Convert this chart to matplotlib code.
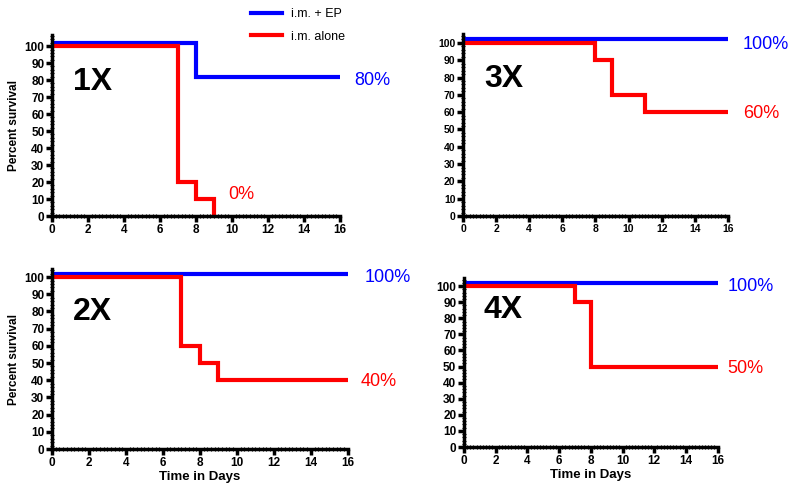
import numpy as np
import matplotlib
matplotlib.use("Agg")
import matplotlib.pyplot as plt
from matplotlib.ticker import MultipleLocator

plt.rcParams['font.family'] = ['Liberation Sans', 'DejaVu Sans']

# survival curves: time points (days) and percent survival
panels = ['1X', '3X', '2X', '4X']
ep_t = [[0, 8, 16], [0, 16], [0, 16], [0, 16]]
ep_s = [[100, 80, 80], [100, 100], [100, 100], [100, 100]]
alone_t = [[0, 7, 8, 9], [0, 8, 9, 11, 16], [0, 7, 8, 9, 16], [0, 7, 8, 16]]
alone_s = [[100, 20, 10, 0], [100, 90, 70, 60, 60], [100, 60, 50, 40, 40], [100, 90, 50, 50]]
ep_label = ['80%', '100%', '100%', '100%']
alone_label = ['0%', '60%', '40%', '50%']

BLUE = '#0000ff'
RED = '#ff0000'

fig = plt.figure(figsize=(7.93, 4.91), dpi=100)

# axes rectangles (left, bottom, width, height) in figure fraction
rects = [
  (0.0656, 0.560, 0.363, 0.3686),
  (0.5839, 0.560, 0.334, 0.371),
  (0.0656, 0.0855, 0.373, 0.3666),
  (0.585, 0.0896, 0.320, 0.344),
]
ytops = [106.5, 105.2, 104.7, 105]
tick_fs = [8.5, 7.5, 8.5, 8.5]
name_pos = [(0.073, 0.74), (0.079, 0.75), (0.07, 0.76), (0.078, 0.81)]
# where the percentage labels go (x in days, y in percent)
ep_pos = [(16.8, 80), (16.9, 99), (16.9, 100), (16.6, 100)]
alone_pos = [(9.8, 12.5), (16.9, 59), (16.7, 39), (16.6, 48.5)]

handles = None
for i, name in enumerate(panels):
  ax = fig.add_axes(rects[i])
  # blue drawn slightly above red so the lines don't overlap
  hb, = ax.step(ep_t[i], np.array(ep_s[i]) + 2, where='post', color=BLUE, lw=3, solid_joinstyle='miter')
  hr, = ax.step(alone_t[i], alone_s[i], where='post', color=RED, lw=3, solid_joinstyle='miter')
  if handles is None:
    handles = (hb, hr)

  ax.set_xlim(0, 16)
  ax.set_ylim(0, ytops[i])
  ax.xaxis.set_major_locator(MultipleLocator(2))
  ax.yaxis.set_major_locator(MultipleLocator(10))
  ax.xaxis.set_minor_locator(MultipleLocator(0.2))
  ax.yaxis.set_minor_locator(MultipleLocator(2))
  for s in ['top', 'right']:
    ax.spines[s].set_visible(False)
  for s in ['left', 'bottom']:
    ax.spines[s].set_linewidth(2.5)
  ax.tick_params(which='major', length=4, width=2.5, pad=1.5, labelsize=tick_fs[i])
  ax.tick_params(which='minor', direction='inout', length=3.5, width=0.8)
  for lab in ax.get_xticklabels() + ax.get_yticklabels():
    lab.set_fontweight('bold')

  ax.text(name_pos[i][0], name_pos[i][1], name, transform=ax.transAxes, fontsize=23,
          fontweight='bold', va='center')
  ax.text(ep_pos[i][0], ep_pos[i][1], ep_label[i], color=BLUE, fontsize=13, va='center', clip_on=False)
  ax.text(alone_pos[i][0], alone_pos[i][1], alone_label[i], color=RED, fontsize=13, va='center', clip_on=False)

  if i in (0, 2):
    ax.set_ylabel('Percent survival', fontsize=8.5, fontweight='bold', labelpad=3)
  if i in (2, 3):
    ax.set_xlabel('Time in Days', fontsize=9.5, fontweight='bold', labelpad=2)

fig.legend(handles, ['i.m. + EP', 'i.m. alone'], loc='upper left',
           bbox_to_anchor=(251 / 793, 1 - 8 / 491), frameon=False, fontsize=9,
           borderpad=0, borderaxespad=0, handlelength=2.5, handletextpad=0.7,
           labelspacing=0.85)

fig.savefig('out.png', dpi=100)
